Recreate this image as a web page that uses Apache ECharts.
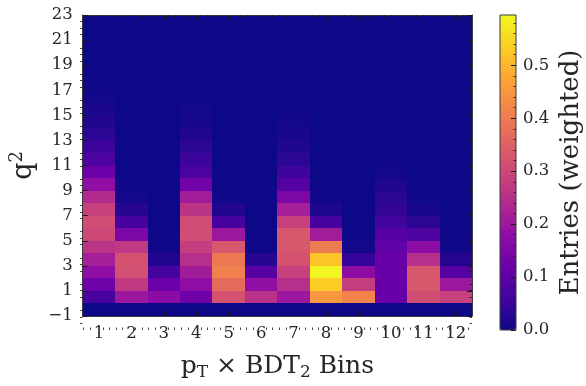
<!DOCTYPE html>
<html>
<head>
<meta charset="utf-8">
<script src="https://cdn.jsdelivr.net/npm/echarts@6/dist/echarts.min.js"></script>
<style>
  html, body { margin: 0; padding: 0; background: #fff; }
  #chart { width: 586px; height: 386px; }
</style>
</head>
<body>
<div id="chart"></div>
<script>
// pT x BDT2 bins along x, q^2 rows (lower edge) along y
const xBins = [1, 2, 3, 4, 5, 6, 7, 8, 9, 10, 11, 12]
const q2Low = [-1, 0, 1, 2, 3, 4, 5, 6, 7, 8, 9, 10, 11, 12, 13, 14, 15, 16, 17, 18, 19, 20, 21, 22]
const xTickLabels = [1, 2, 3, 4, 5, 6, 7, 8, 9, 10, 11, 12]
const yTickLabels = [-1, 1, 3, 5, 7, 9, 11, 13, 15, 17, 19, 21, 23]
const cbTickLabels = [0, 0.1, 0.2, 0.3, 0.4, 0.5]
const cbMax = 0.595

// weighted entries per bin, one value per q^2 row, bottom row first
const bin1 = [0, 0.07, 0.125, 0.18, 0.215, 0.26, 0.30, 0.31, 0.285, 0.24, 0.18, 0.12, 0.077, 0.054, 0.036, 0.024, 0.015, 0.006, 0.002, 0, 0, 0, 0, 0]
const bin2 = [0, 0.2, 0.27, 0.315, 0.32, 0.27, 0.15, 0.07, 0.03, 0.006, 0.002, 0, 0, 0, 0, 0, 0, 0, 0, 0, 0, 0, 0, 0]
const bin3 = [0, 0.17, 0.12, 0.065, 0.024, 0.004, 0.002, 0, 0, 0, 0, 0, 0, 0, 0, 0, 0, 0, 0, 0, 0, 0, 0, 0]
const bin4 = [0, 0.125, 0.178, 0.21, 0.25, 0.28, 0.31, 0.31, 0.26, 0.21, 0.13, 0.072, 0.054, 0.036, 0.024, 0.012, 0.006, 0.002, 0, 0, 0, 0, 0, 0]
const bin5 = [0, 0.32, 0.37, 0.41, 0.395, 0.33, 0.2, 0.07, 0.024, 0.005, 0.002, 0, 0, 0, 0, 0, 0, 0, 0, 0, 0, 0, 0, 0]
const bin6 = [0, 0.255, 0.18, 0.09, 0.03, 0.005, 0.002, 0, 0, 0, 0, 0, 0, 0, 0, 0, 0, 0, 0, 0, 0, 0, 0, 0]
const bin7 = [0, 0.2, 0.25, 0.285, 0.32, 0.33, 0.33, 0.285, 0.215, 0.15, 0.087, 0.056, 0.036, 0.022, 0.014, 0.008, 0.003, 0, 0, 0, 0, 0, 0, 0]
const bin8 = [0, 0.45, 0.535, 0.59, 0.52, 0.40, 0.21, 0.07, 0.02, 0.004, 0, 0, 0, 0, 0, 0, 0, 0, 0, 0, 0, 0, 0, 0]
const bin9 = [0, 0.415, 0.28, 0.175, 0.045, 0.008, 0.002, 0, 0, 0, 0, 0, 0, 0, 0, 0, 0, 0, 0, 0, 0, 0, 0, 0]
const bin10 = [0, 0.116, 0.116, 0.116, 0.114, 0.107, 0.09, 0.06, 0.042, 0.033, 0.02, 0.009, 0.003, 0, 0, 0, 0, 0, 0, 0, 0, 0, 0, 0]
const bin11 = [0, 0.31, 0.33, 0.33, 0.25, 0.175, 0.077, 0.033, 0.012, 0.005, 0.002, 0, 0, 0, 0, 0, 0, 0, 0, 0, 0, 0, 0, 0]
const bin12 = [0, 0.285, 0.2, 0.09, 0.027, 0.005, 0.002, 0, 0, 0, 0, 0, 0, 0, 0, 0, 0, 0, 0, 0, 0, 0, 0, 0]
const bins = [bin1, bin2, bin3, bin4, bin5, bin6, bin7, bin8, bin9, bin10, bin11, bin12]

// plasma colormap stops
const plasma = ['#0d0887', '#41049d', '#6a00a8', '#8f0da4', '#b12a90', '#cc4778',
  '#e16462', '#f2844b', '#fca636', '#fcce25', '#f0f921']

const FONT = 'DejaVu Serif'
const INK = '#262626'

const cells = []
bins.forEach((col, i) => {
  col.forEach((v, j) => {
    cells.push([xBins[i], q2Low[j], v])
  })
})

// minor tick positions (matplotlib auto minor locator)
const xMinor = []
for (let k = 3; k <= 62; k++) {
  if (k % 5 !== 0) xMinor.push(Math.round(k * 20) / 100)
}
const yMinor = []
for (let k = -2; k <= 46; k++) {
  const v = k / 2
  if (!(Number.isInteger(v) && Math.abs(v % 2) === 1)) yMinor.push(v)
}
const cbMinor = []
for (let k = 1; k <= 29; k++) {
  if (k % 5 !== 0) cbMinor.push(Math.round(k * 2) / 100)
}

const tickAxis = (extra) => Object.assign({
  type: 'value',
  z: 10,
  splitLine: { show: false },
  splitArea: { show: false },
  axisLine: { show: true, onZero: false, lineStyle: { color: '#3a3a3a', width: 1 } },
  axisLabel: { show: false },
}, extra)

const noLine = { show: false, onZero: false }

const majorTick = (values) => ({
  show: true, inside: true, length: 5, customValues: values,
  lineStyle: { color: '#1a1a1a', width: 1 },
})
const minorTick = (values) => ({
  show: true, inside: true, length: 2.5, customValues: values,
  lineStyle: { color: '#1a1a1a', width: 0.8 },
})

const plotRect = { left: 80, top: 15, width: 392, height: 315 }
const cbRect = { left: 500, top: 15, width: 16, height: 315 }

const chart = echarts.init(document.getElementById('chart'), null, { renderer: 'canvas' })

const option = {
  animation: false,
  backgroundColor: '#fff',
  grid: [
    Object.assign({ show: true, backgroundColor: plasma[0], borderWidth: 0 }, plotRect),
    Object.assign({}, plotRect),
    Object.assign({ show: true, borderColor: '#3a3a3a', borderWidth: 1, z: 10 }, cbRect),
    Object.assign({}, cbRect),
  ],
  xAxis: [
    tickAxis({
      gridIndex: 0, position: 'bottom', min: 0.5, max: 12.5,
      axisTick: majorTick(xTickLabels),
      axisLabel: {
        show: true, customValues: xTickLabels, margin: 9,
        fontFamily: FONT, fontSize: 16.5, color: INK,
      },
      name: '{a|p}{s|T}{a| × BDT}{s|2}{a| Bins}',
      nameLocation: 'middle',
      nameGap: 35,
      nameTextStyle: {
        color: INK, fontFamily: FONT, fontSize: 25,
        rich: {
          a: { fontFamily: FONT, fontSize: 25, color: INK, lineHeight: 30 },
          s: { fontFamily: FONT, fontSize: 17, color: INK, lineHeight: 17, verticalAlign: 'bottom' },
        },
      },
    }),
    tickAxis({ gridIndex: 0, position: 'top', min: 0.5, max: 12.5, axisTick: majorTick(xTickLabels) }),
    tickAxis({ gridIndex: 1, position: 'bottom', min: 0.5, max: 12.5, axisLine: noLine, axisTick: minorTick(xMinor) }),
    tickAxis({ gridIndex: 1, position: 'top', min: 0.5, max: 12.5, axisLine: noLine, axisTick: minorTick(xMinor) }),
    { type: 'value', gridIndex: 2, show: false, min: 0, max: 1 },
    { type: 'value', gridIndex: 3, show: false, min: 0, max: 1 },
  ],
  yAxis: [
    tickAxis({
      gridIndex: 0, position: 'left', min: -1, max: 23,
      axisTick: majorTick(yTickLabels),
      axisLabel: {
        show: true, customValues: yTickLabels, margin: 10,
        fontFamily: FONT, fontSize: 16.5, color: INK,
        formatter: (v) => (v < 0 ? '\u2212' + (-v) : String(v)),
      },
      name: '{a|q}{p|2}',
      nameLocation: 'middle',
      nameRotate: 90,
      nameGap: 42,
      nameTextStyle: {
        color: INK, fontFamily: FONT, fontSize: 27,
        rich: {
          a: { fontFamily: FONT, fontSize: 27, color: INK, lineHeight: 32 },
          p: { fontFamily: FONT, fontSize: 18, color: INK, lineHeight: 18, verticalAlign: 'top' },
        },
      },
    }),
    tickAxis({ gridIndex: 0, position: 'right', min: -1, max: 23, axisTick: majorTick(yTickLabels) }),
    tickAxis({ gridIndex: 1, position: 'left', min: -1, max: 23, axisLine: noLine, axisTick: minorTick(yMinor) }),
    tickAxis({ gridIndex: 1, position: 'right', min: -1, max: 23, axisLine: noLine, axisTick: minorTick(yMinor) }),
    tickAxis({
      gridIndex: 2, position: 'right', min: 0, max: cbMax,
      axisLine: noLine,
      axisTick: majorTick(cbTickLabels),
      axisLabel: {
        show: true, customValues: cbTickLabels, margin: 7,
        fontFamily: FONT, fontSize: 16.5, color: INK,
        formatter: (v) => v.toFixed(1),
      },
      name: 'Entries (weighted)',
      nameLocation: 'middle',
      nameRotate: 90,
      nameGap: 42,
      nameTextStyle: { color: INK, fontFamily: FONT, fontSize: 26 },
    }),
    tickAxis({ gridIndex: 3, position: 'right', min: 0, max: cbMax, axisLine: noLine, axisTick: minorTick(cbMinor) }),
  ],
  visualMap: {
    type: 'continuous',
    min: 0,
    max: cbMax,
    dimension: 2,
    seriesIndex: 0,
    calculable: false,
    left: cbRect.left,
    top: cbRect.top,
    itemWidth: cbRect.width,
    itemHeight: cbRect.height,
    padding: 0,
    inRange: { color: plasma },
  },
  series: [
    {
      type: 'custom',
      coordinateSystem: 'cartesian2d',
      xAxisIndex: 0,
      yAxisIndex: 0,
      encode: { x: 0, y: 1 },
      clip: true,
      silent: true,
      data: cells,
      renderItem: function (params, api) {
        const lo = api.coord([api.value(0) - 0.5, api.value(1)])
        const hi = api.coord([api.value(0) + 0.5, api.value(1) + 1])
        const color = api.visual('color')
        // snap cell edges to whole pixels so neighbours meet without seams
        const x0 = Math.round(lo[0])
        const x1 = Math.round(hi[0])
        const y0 = Math.round(hi[1])
        const y1 = Math.round(lo[1])
        return {
          type: 'rect',
          shape: { x: x0, y: y0, width: x1 - x0, height: y1 - y0 },
          style: { fill: color },
        }
      },
    },
  ],
}

chart.setOption(option)
</script>
</body>
</html>
